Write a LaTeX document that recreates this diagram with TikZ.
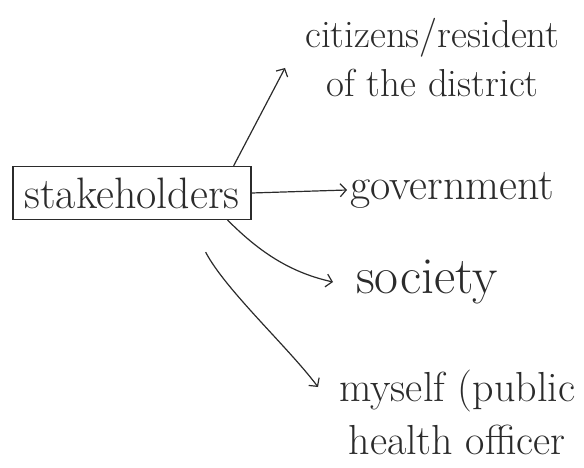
\documentclass[tikz,border=0pt]{standalone}
\usetikzlibrary{arrows.meta, positioning, calc}

\begin{document}
\begin{tikzpicture}[
    x=1pt, y=-1pt,
    handtext/.style={font=\fontsize{44}{52}\selectfont, text=inkcolor,
                     align=center, inner sep=3pt},
    handbox/.style={draw=inkcolor, line width=1.2pt, minimum width=238pt,
                    minimum height=53pt, inner sep=2pt},
    handarrow/.style={draw=inkcolor, line width=1.2pt,
                      -{Straight Barb[length=6pt, width=13pt, line width=1.2pt]}},
]

\definecolor{inkcolor}{HTML}{2B2B2B}   % pencil grey of the sketch

% page, margins included
\useasboundingbox (0,0) rectangle (584,468);

% ------------------------------------------------------------ the box
\node[handbox, handtext] (stake) at (132,193) {stakeholders};

% ------------------------------------------------------------ the four groups
\node[handtext, anchor=west, font=\fontsize{39}{49}\selectfont]
    (citizens) at (302,58) {citizens/resident\\of the district};
\node[handtext, anchor=west] (govt) at (347,190) {government};
\node[handtext, anchor=west, font=\fontsize{52}{52}\selectfont]
    (society) at (353,282) {society};
\node[handtext, anchor=west, font=\fontsize{42}{53}\selectfont]
    (myself) at (336,412) {myself (public\\health officer};

% free ends of the arrows that stop short of their text
\coordinate (citend) at (285,68);
\coordinate (socend) at (333,282);
\coordinate (myend) at (318,387);

% ------------------------------------------------------------ arrows
\draw[handarrow] ([xshift=-18pt]stake.north east) -- (citend);
\draw[handarrow] (stake.east) -- (govt.west);
\draw[handarrow] ([xshift=-24pt]stake.south east)
    .. controls +(30,30) and +(-45,-10) .. (socend);
\draw[handarrow] ($(stake.south east)+(-46,32)$)
    .. controls +(20,38) and +(-30,-40) .. (myend);

\end{tikzpicture}
\end{document}
